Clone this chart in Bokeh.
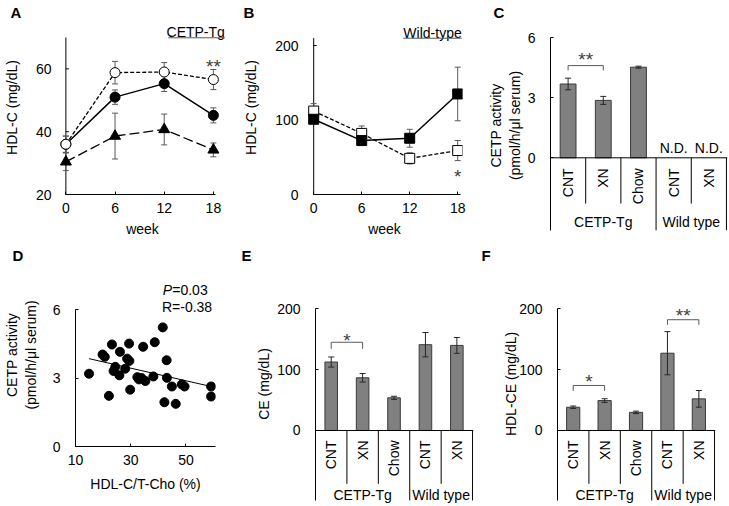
import numpy as np
from bokeh.plotting import figure
from bokeh.layouts import column, row
from bokeh.models import FixedTicker, Span
from bokeh.core.properties import value
from bokeh.embed import file_html
from bokeh.resources import INLINE

FONT = "Liberation Sans"
FS = "14px"
BAR_FILL = "#808080"
BAR_LINE = "#3a3a3a"
ERR_GRAY = "#595959"
STAR_COL = "#404040"

# ---------------- data ----------------
# Panel A : HDL-C, CETP-Tg
weeks = [0, 6, 12, 18]
week_ticks = [0, 6, 12, 18]
a_filled = [36.0, 51.0, 55.3, 45.2]
a_filled_err = [2.6, 2.3, 2.5, 2.4]
a_open = [36.0, 58.8, 59.0, 56.6]
a_open_err = [2.6, 3.6, 3.0, 3.2]
a_tri = [30.4, 38.6, 40.7, 34.2]
a_tri_err = [2.8, 7.3, 4.9, 2.2]
a_yticks = [20, 40, 60]
a_sig_x, a_sig_y, a_sig_t = [18], [62.1], ["**"]

# Panel B : HDL-C, wild-type
b_filled = [101.0, 72.4, 75.5, 135.0]
b_filled_err = [5.0, 3.0, 12.0, 36.0]
b_open = [112.0, 82.0, 48.5, 59.0]
b_open_err = [10.0, 10.0, 7.5, 13.5]
b_yticks = [0, 100, 200]
b_sig_x, b_sig_y, b_sig_t = [18], [30.0], ["*"]

# Bar panels: categories
groups = ["CETP-Tg", "CETP-Tg", "CETP-Tg", "Wild type", "Wild type"]
cats = ["CNT", "XN", "Chow", "CNT", "XN"]

# Panel C : CETP activity
c_vals = [3.69, 2.87, 4.53, None, None]
c_err = [0.29, 0.20, 0.05, None, None]
c_yticks = [0, 3, 6]
c_brackets = [(0, 1, 4.61, 4.37, "**", 5.11)]

# Panel D : scatter
d_x = [14.9, 19.8, 20.6, 22.1, 23.2, 23.8, 24.4, 25.9, 26.1, 28.0, 28.7, 29.4,
       29.5, 29.8, 32.4, 33.0, 33.9, 34.5, 35.3, 38.2, 38.7, 41.6, 42.2, 43.0,
       43.1, 44.9, 46.3, 48.5, 49.5, 59.1, 59.1]
d_y = [3.19, 4.03, 3.93, 2.22, 4.47, 3.31, 3.49, 3.12, 4.15, 3.41, 3.85, 4.51,
       3.75, 2.49, 3.04, 2.94, 3.00, 4.37, 2.87, 3.07, 4.57, 5.22, 1.94, 3.78,
       3.01, 2.63, 1.87, 2.72, 2.63, 2.63, 2.19]
d_fit_x = [14.9, 59.1]
d_fit_y = [3.85, 2.63]
d_xticks = [10, 30, 50]
d_yticks = [0, 3, 6]

# Panel E : CE
e_vals = [112.5, 86.6, 53.7, 141.0, 139.8]
e_err = [8.3, 7.0, 2.5, 20.0, 13.0]
e_brackets = [(0, 1, 145, 134, "*", 154.6)]

# Panel F : HDL-CE
f_vals = [38.2, 49.2, 29.8, 127.0, 52.0]
f_err = [2.0, 3.0, 2.0, 35.5, 13.7]
f_brackets = [(0, 1, 74, 65, "*", 87), (3, 4, 182, 173.6, "**", 196)]
ef_yticks = [0, 100, 200]


# ---------------- helpers ----------------
def style_axis(ax):
    ax.major_tick_in = 3
    ax.major_tick_out = 0
    ax.minor_tick_line_color = None
    ax.axis_line_color = "#000000"
    ax.major_tick_line_color = "#000000"
    ax.major_label_text_font = FONT
    ax.major_label_text_font_size = FS
    ax.major_label_text_color = "#000000"
    ax.axis_label_text_font = FONT
    ax.axis_label_text_font_size = FS
    ax.axis_label_text_font_style = "normal"
    ax.axis_label_text_color = "#000000"


def make_fig(w, h, bl, br, bt, bb, xr, yr, letter, loff, has_x=True):
    kw = {}
    if not has_x:
        kw["x_axis_type"] = None
    p = figure(width=w, height=h, x_range=xr, y_range=yr, toolbar_location=None,
               output_backend="svg", min_border_left=bl, min_border_right=br,
               min_border_top=bt, min_border_bottom=bb, title=letter, **kw)
    p.outline_line_color = None
    p.grid.visible = False
    p.background_fill_color = "white"
    p.border_fill_color = "white"
    for ax in list(p.xaxis) + list(p.yaxis):
        style_axis(ax)
    p.yaxis[0].major_label_standoff = 15
    if has_x:
        p.xaxis[0].major_label_standoff = 8
    t = p.title
    t.align = "left"
    t.offset = loff
    t.standoff = 0
    t.text_font = FONT
    t.text_font_size = "15px"
    t.text_font_style = "bold"
    t.text_color = "#000000"
    return p


def manual_yaxis(p, ticks, lo, hi, standoff):
    ax = p.yaxis[0]
    ax.axis_line_color = None
    ax.major_tick_line_color = None
    ax.major_label_standoff = standoff
    p.segment(x0=[0], y0=[lo], x1=[0], y1=[hi], line_color="#000000", line_width=1)
    p.ray(x=[0] * len(ticks), y=ticks, length=3, length_units="screen", angle=0,
          line_color="#000000", line_width=1)


def errbars(p, x, y, e, color=ERR_GRAY, cap=6):
    lo = [yy - ee for yy, ee in zip(y, e)]
    hi = [yy + ee for yy, ee in zip(y, e)]
    p.segment(x0=x, y0=lo, x1=x, y1=hi, line_color=color, line_width=1)
    p.scatter(x=list(x) + list(x), y=lo + hi, marker="dash", size=cap,
              line_color=color, line_width=1)


def stars(p, xs, ys, ts):
    p.text(x=xs, y=ys, text=ts, text_font=value(FONT), text_font_size="19px",
           text_align="center", text_baseline="middle", text_color=STAR_COL,
           y_offset=4)


def txt(p, xs, ys, ts, align="center", baseline="middle", angle=0.0,
        style="normal", size=FS):
    p.text(x=xs, y=ys, text=ts, text_font=value(FONT), text_font_size=size,
           text_align=align, text_baseline=baseline, angle=angle,
           text_font_style=style, text_color="#000000")


def bar_panel(p, vals, errs, bar_w, y_cat, y_within, y_group, y_gline, brackets,
              nd_y=None):
    n = len(cats)
    centers = [i + 0.5 for i in range(n)]
    xs = [c for c, v in zip(centers, vals) if v is not None]
    vs = [v for v in vals if v is not None]
    es = [e for e in errs if e is not None]
    p.vbar(x=xs, top=vs, bottom=0, width=bar_w, fill_color=BAR_FILL,
           line_color=BAR_LINE, line_width=1)
    errbars(p, xs, vs, es, color="#262626", cap=6)
    if nd_y is not None:
        ndx = [c for c, v in zip(centers, vals) if v is None]
        txt(p, ndx, [nd_y] * len(ndx), ["N.D."] * len(ndx))
    p.add_layout(Span(location=0, dimension="width", line_color="#000000",
                      line_width=1))
    sx, sy0, sy1 = [], [], []
    for i in range(1, n + 1):
        grp_end = (i == n) or (groups[i] != groups[i - 1])
        sx.append(i)
        sy0.append(0)
        sy1.append(y_gline if grp_end else y_within)
    p.segment(x0=sx, y0=sy0, x1=sx, y1=sy1, line_color="#000000", line_width=1)
    txt(p, centers, [y_cat] * n, cats, align="right", baseline="middle",
        angle=np.pi / 2)
    gnames, gx = [], []
    for g in dict.fromkeys(groups):
        idx = [c for c, gg in zip(centers, groups) if gg == g]
        gnames.append(g)
        gx.append(sum(idx) / len(idx))
    txt(p, gx, [y_group] * len(gx), gnames)
    bxs, bys, sxs, sys_, sts = [], [], [], [], []
    for (i, j, top, leg, t, sy) in brackets:
        bxs.append([centers[i], centers[i], centers[j], centers[j]])
        bys.append([leg, top, top, leg])
        sxs.append((centers[i] + centers[j]) / 2)
        sys_.append(sy)
        sts.append(t)
    p.multi_line(xs=bxs, ys=bys, line_color=ERR_GRAY, line_width=1)
    stars(p, sxs, sys_, sts)


H1, H2 = 244, 260

# ---------------- Panel A ----------------
pA = make_fig(240, H1, 53, 14, 20, 50, (-0.9, 19.6), (20, 75.4), "A", -48)
pA.xaxis.ticker = FixedTicker(ticks=week_ticks)
pA.yaxis.ticker = FixedTicker(ticks=a_yticks)
pA.xaxis.bounds = (0, 18.3)
pA.xaxis.axis_label = "week"
pA.xaxis.axis_label_standoff = 5
pA.yaxis.axis_label = "HDL-C (mg/dL)"
pA.yaxis.axis_label_standoff = 13
manual_yaxis(pA, a_yticks, 20, 70, 7)
errbars(pA, weeks, a_tri, a_tri_err)
errbars(pA, weeks, a_filled, a_filled_err)
errbars(pA, weeks, a_open, a_open_err)
pA.line(weeks, a_tri, line_color="#000000", line_width=1.3, line_dash="10 4")
pA.line(weeks, a_filled, line_color="#000000", line_width=1.5)
pA.line(weeks, a_open, line_color="#000000", line_width=1.3, line_dash="4 2")
pA.scatter(weeks, a_tri, marker="triangle", size=11, fill_color="#000000",
           line_color="#000000")
pA.scatter(weeks, a_filled, marker="circle", size=10, fill_color="#000000",
           line_color="#000000")
pA.scatter(weeks, a_open, marker="circle", size=10, fill_color="#ffffff",
           line_color="#000000", line_width=1)
stars(pA, a_sig_x, a_sig_y, a_sig_t)
txt(pA, [19.4], [71.6], ["CETP-Tg"], align="right")
pA.segment(x0=[12.5], y0=[69.9], x1=[19.4], y1=[69.9], line_color=ERR_GRAY,
           line_width=1)

# ---------------- Panel B ----------------
pB = make_fig(240, H1, 65, 18, 20, 50, (-0.9, 18.6), (0, 233.6), "B", -63)
pB.xaxis.ticker = FixedTicker(ticks=week_ticks)
pB.yaxis.ticker = FixedTicker(ticks=b_yticks)
pB.xaxis.bounds = (0, 18.4)
pB.xaxis.axis_label = "week"
pB.xaxis.axis_label_standoff = 5
pB.yaxis.axis_label = "HDL-C (mg/dL)"
pB.yaxis.axis_label_standoff = 13
manual_yaxis(pB, b_yticks, 0, 210, 8)
errbars(pB, weeks, b_filled, b_filled_err)
errbars(pB, weeks, b_open, b_open_err)
pB.line(weeks, b_open, line_color="#000000", line_width=1.3, line_dash="4 2")
pB.line(weeks, b_filled, line_color="#000000", line_width=1.5)
pB.scatter(weeks, b_open, marker="square", size=10, fill_color="#ffffff",
           line_color="#000000")
pB.scatter(weeks, b_filled, marker="square", size=10, fill_color="#000000",
           line_color="#000000")
stars(pB, b_sig_x, b_sig_y, b_sig_t)
txt(pB, [18.5], [217.4], ["Wild-type"], align="right")
pB.segment(x0=[11.2], y0=[209.8], x1=[18.5], y1=[209.8], line_color=ERR_GRAY,
           line_width=1)

# ---------------- Panel C ----------------
pC = make_fig(248, H1, 70, 1, 20, 14, (0, 5.03), (-3.635, 6.865), "C", -57,
              has_x=False)
pC.yaxis.ticker = FixedTicker(ticks=c_yticks)
pC.yaxis.bounds = (-3.635, 6)
pC.yaxis.axis_label = "CETP activity\n(pmol/h/\u03bcl serum)"
pC.yaxis.axis_label_standoff = 2
bar_panel(pC, c_vals, c_err, 0.45, -0.53, -2.29, -3.22, -3.635, c_brackets,
          nd_y=0.47)

# ---------------- Panel D ----------------
pD = make_fig(240, H2, 68, 25, 19, 58, (10, 60.7), (0, 8.02), "D", -63)
pD.xaxis.ticker = FixedTicker(ticks=d_xticks)
pD.yaxis.ticker = FixedTicker(ticks=d_yticks)
pD.yaxis.bounds = (0, 6)
pD.xaxis.axis_label = "HDL-C/T-Cho (%)"
pD.xaxis.axis_label_standoff = 8
pD.yaxis.axis_label = "CETP activity\n(pmol/h/\u03bcl serum)"
pD.yaxis.axis_label_standoff = 11
pD.line(d_fit_x, d_fit_y, line_color="#000000", line_width=1)
pD.scatter(d_x, d_y, marker="circle", size=9, fill_color="#000000",
           line_color="#000000")
txt(pD, [41.6], [6.84], ["P"], align="left", style="italic")
pD.text(x=[41.6], y=[6.84], text=["=0.03"], x_offset=9.5, text_font=value(FONT),
        text_font_size=FS, text_align="left", text_baseline="middle",
        text_color="#000000")
txt(pD, [41.3], [6.1], ["R=-0.38"], align="left")

# ---------------- Panel E ----------------
pE = make_fig(240, H2, 75, 7, 19, 0, (0, 5.03), (-121.6, 274.4), "E", -74,
              has_x=False)
pE.yaxis.ticker = FixedTicker(ticks=ef_yticks)
pE.yaxis.bounds = (-115, 200)
pE.yaxis.axis_label = "CE (mg/dL)"
pE.yaxis.axis_label_standoff = 2
bar_panel(pE, e_vals, e_err, 0.4, -16.4, -87.6, -105.2, -115, e_brackets)

# ---------------- Panel F ----------------
pF = make_fig(248, H2, 77, 13, 19, 0, (0, 5.03), (-121.6, 274.4), "F", -76,
              has_x=False)
pF.yaxis.ticker = FixedTicker(ticks=ef_yticks)
pF.yaxis.bounds = (-115, 200)
pF.yaxis.axis_label = "HDL-CE (mg/dL)"
pF.yaxis.axis_label_standoff = -3
bar_panel(pF, f_vals, f_err, 0.42, -16.4, -87.6, -105.2, -115, f_brackets)

layout = column(row(column(pA), column(pB), column(pC)),
                row(column(pD), column(pE), column(pF)))
open("out.html", "w").write(file_html(layout, INLINE))
